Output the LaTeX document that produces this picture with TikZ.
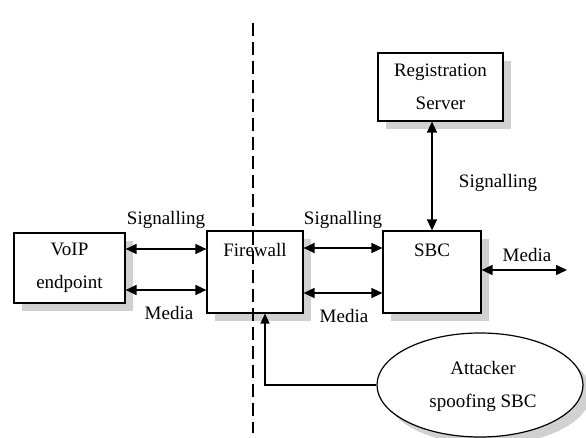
\documentclass[tikz,border=0pt]{standalone}
\usepackage{fontspec}
\setmainfont{Liberation Serif}
\usetikzlibrary{arrows.meta,shapes.geometric,shadows}

\begin{document}
\begin{tikzpicture}[x=1pt,y=-1pt,
  txt/.style={font=\fontsize{19}{33}\selectfont, align=center, inner sep=0pt},
  shade/.style={drop shadow={shadow xshift=8pt, shadow yshift=-8pt,
      fill=black!18, draw=none, opacity=1}},
  unit/.style={draw, line width=1.2pt, fill=white, shade, inner sep=0pt},
  link/.style={line width=1.5pt, {Triangle[length=11pt,width=10pt]}-{Triangle[length=11pt,width=10pt]}},
  probe/.style={line width=1.4pt, -{Triangle[length=10pt,width=9pt]}},
  border/.style={line width=1.6pt, dash pattern=on 13pt off 6pt}]

\useasboundingbox (0,0) rectangle (586,438);

% boxes
\node[unit, minimum width=111pt, minimum height=70pt] (voip) at (69.5,268) {};
\node[txt] (voiptxt) at (voip) {VoIP\\endpoint};

\node[unit, minimum width=96pt, minimum height=82pt] (fw) at (255,272) {};
\node[txt, anchor=base] (fwtxt) at (255,257) {Firewall};

\node[unit, minimum width=98pt, minimum height=82pt] (sbc) at (432,272) {};
\node[txt, anchor=base] (sbctxt) at (432,257) {SBC};

\node[unit, minimum width=125pt, minimum height=68pt] (reg) at (440.5,87) {};
\node[txt] (regtxt) at (reg) {Registration\\Server};

\node[draw, ellipse, line width=1.2pt, fill=white, shade,
      minimum width=206pt, minimum height=104pt, inner sep=0pt] (att) at (480,385) {};
\node[txt] (atttxt) at (483,386) {Attacker\\spoofing SBC};

% connectors
\draw[link] ([yshift=19pt]voip.east) -- ([yshift=19pt]voip.east -| fw.west);
\draw[link] ([yshift=-22pt]voip.east) -- ([yshift=-22pt]voip.east -| fw.west);
\draw[link] ([yshift=24pt]fw.east) -- ([yshift=24pt]fw.east -| sbc.west);
\draw[link] ([yshift=-21pt]fw.east) -- ([yshift=-21pt]fw.east -| sbc.west);
\coordinate (out) at (567,270);
\draw[link] (sbc.east |- out) -- (out);
\draw[link] (sbc.north |- reg.south) -- (sbc.north);
\draw[probe] (att.west) -| ([xshift=10pt]fw.south);

% labels
\node[txt] (l1) at (166,220) {Signalling};
\node[txt] (l2) at (169,313) {Media};
\node[txt] (l3) at (343,220) {Signalling};
\node[txt] (l4) at (344,316) {Media};
\node[txt] (l5) at (527,255) {Media};
\node[txt] (l6) at (498,183) {Signalling};

% trust boundary
\coordinate (btop) at (253,23);
\coordinate (bbot) at (253,433);
\draw[border] (btop) -- (bbot);
\end{tikzpicture}
\end{document}
